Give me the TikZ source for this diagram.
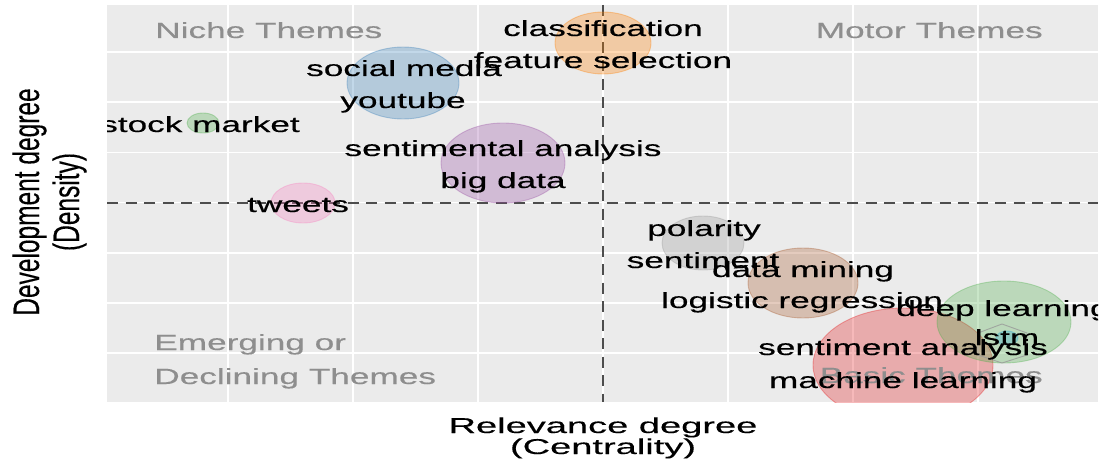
\documentclass[tikz,border=0pt]{standalone}
\usepackage{fontspec}
\setmainfont{Liberation Sans}[FakeBold=0.25]
\definecolor{panel}{HTML}{EBEBEB}
\definecolor{dashc}{HTML}{4D4D4D}
\definecolor{quadgray}{HTML}{8E8E8E}
\definecolor{cred}{HTML}{E41A1C}
\definecolor{cblue}{HTML}{377EB8}
\definecolor{cgreen}{HTML}{4DAF4A}
\definecolor{cpurple}{HTML}{984EA3}
\definecolor{corange}{HTML}{FF7F00}
\definecolor{cbrown}{HTML}{A65628}
\definecolor{cpink}{HTML}{F781BF}
\definecolor{cgray}{HTML}{999999}
\definecolor{ccyan}{HTML}{2AA7D0}
\tikzset{
  lab/.style={font=\fontsize{22}{26}\selectfont, xscale=1.6, anchor=base, inner sep=0pt, text=black},
  quad/.style={lab, text=quadgray},
  axt/.style={font=\fontsize{21.5}{24}\selectfont, xscale=1.77, anchor=base, inner sep=0pt, text=black},
  ayt/.style={font=\fontsize{24.5}{26}\selectfont, xscale=1.5, rotate=90, anchor=base, inner sep=0pt, text=black},
  grid/.style={white, line width=1.8pt},
  qline/.style={dashc, line width=2.6pt, dash pattern=on 11pt off 7.5pt},
  bub/.style={fill=#1, fill opacity=0.3, draw=#1, draw opacity=0.35, line width=0.9pt}
}
\begin{document}
\begin{tikzpicture}[x=1pt,y=-1pt]
\useasboundingbox (0,0) rectangle (1107,468);
\fill[white] (0,0) rectangle (1107,468);
% panel
\fill[panel] (107,5) rectangle (1098,402);
\begin{scope}
\clip (107,5) rectangle (1098,402);
% grid
\foreach \gx in {228,353,478,603,728,853,978}
  \draw[grid] (\gx,5) -- (\gx,402);
\foreach \gy in {52,102,152.5,202.5,253,303,353}
  \draw[grid] (107,\gy) -- (1098,\gy);
% quadrant separators
\coordinate (hl) at (107,203);
\coordinate (hr) at (1098,203);
\coordinate (vt) at (603,5);
\coordinate (vb) at (603,402);
\draw[qline] (hl) -- (hr);
\draw[qline] (vt) -- (vb);
% bubbles
\path[bub=corange] (603,43) ellipse [x radius=48, y radius=31];
\path[bub=cblue] (403,83) ellipse [x radius=56, y radius=36];
\path[bub=cgreen] (203,123) ellipse [x radius=16, y radius=10];
\path[bub=cpurple] (503,163) ellipse [x radius=62, y radius=40];
\path[bub=cpink] (303,203) ellipse [x radius=32, y radius=20];
\path[bub=cgray] (703,243) ellipse [x radius=41, y radius=27];
\path[bub=cbrown] (803,283) ellipse [x radius=55, y radius=35];
\path[bub=cred] (903,365) ellipse [x radius=90, y radius=57];
\path[bub=cgreen] (1004,322) ellipse [x radius=67, y radius=41];
\draw[cgray, draw opacity=0.8, line width=0.9pt] (1002,324) -- (1027,333) -- (1027,355) -- (1002,363) -- (978,355) -- (978,333) -- cycle;
\path[bub=ccyan] (1007,338) ellipse [x radius=11, y radius=7];
% quadrant labels
\node[quad, anchor=base west] (niche) at (155,38) {Niche Themes};
\node[quad, anchor=base east] (motor) at (1043,38) {Motor Themes};
\node[quad, anchor=base west] (emerg) at (154,350) {Emerging or};
\node[quad, anchor=base west] (decl) at (154,384) {Declining Themes};
\node[quad, anchor=base east] (basic) at (1043,383) {Basic Themes};
% theme labels
\node[lab] (l1) at (603,36) {classification};
\node[lab] (l2) at (603,68) {feature selection};
\node[lab] (l3) at (404,76) {social media};
\node[lab] (l4) at (403,108) {youtube};
\node[lab] (l5) at (200,132) {stock market};
\node[lab] (l6) at (503,156) {sentimental analysis};
\node[lab] (l7) at (503,188) {big data};
\node[lab] (l8) at (298,212) {tweets};
\node[lab] (l9) at (704,236) {polarity};
\node[lab] (l10) at (703,268) {sentiment};
\node[lab] (l11) at (803,277) {data mining};
\node[lab] (l12) at (802,308) {logistic regression};
\node[lab] (l13) at (1003,316) {deep learning};
\node[lab] (l14) at (1007,345) {lstm};
\node[lab] (l15) at (903,355) {sentiment analysis};
\node[lab] (l16) at (903,388) {machine learning};
\end{scope}
% axis titles
\node[axt] (xt1) at (603,433) {Relevance degree};
\node[axt] (xt2) at (603,454) {(Centrality)};
\node[ayt] (yt1) at (39,202) {Development degree};
\node[ayt] (yt2) at (79,202) {(Density)};
\end{tikzpicture}
\end{document}
